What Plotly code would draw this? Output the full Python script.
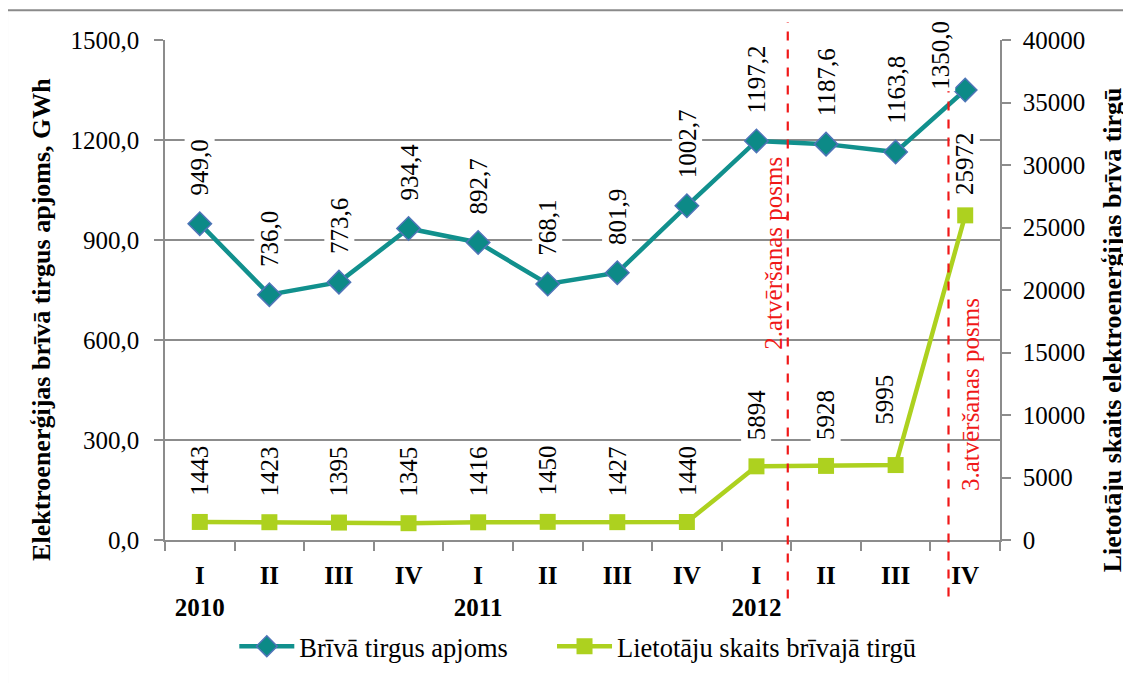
import plotly.graph_objects as go

quarters = ["I", "II", "III", "IV", "I", "II", "III", "IV", "I", "II", "III", "IV"]
years = ["2010", "", "", "", "2011", "", "", "", "2012", "", "", ""]
volume_gwh = [949.0, 736.0, 773.6, 934.4, 892.7, 768.1, 801.9, 1002.7, 1197.2, 1187.6, 1163.8, 1350.0]
users = [1443, 1423, 1395, 1345, 1416, 1450, 1427, 1440, 5894, 5928, 5995, 25972]
series_names = ["Brīvā tirgus apjoms", "Lietotāju skaits brīvajā tirgū"]
left_title = "Elektroenerģijas brīvā tirgus apjoms, GWh"
right_title = "Lietotāju skaits elektroenerģijas brīvā tirgū"
stage_labels = ["2.atvēršanas posms", "3.atvēršanas posms"]

FONT = "Liberation Serif, Times New Roman, serif"
TEAL = "#11908d"
TEAL_FILL = "#0c8a87"
DIAMOND_EDGE = "#4f74b8"
GREEN = "#add11f"
GRID = "#8c8c8c"
RED = "#f01818"

x = list(range(len(quarters)))
ticktext = [f"<b>{q}</b>" + (f"<br><b>{y}</b>" if y else "<br> ") for q, y in zip(quarters, years)]

fig = go.Figure()
fig.add_trace(go.Scatter(
    x=x, y=volume_gwh, name=series_names[0], mode="lines+markers",
    line=dict(color=TEAL, width=4.5),
    marker=dict(symbol="diamond", size=18, color=TEAL_FILL, line=dict(color=DIAMOND_EDGE, width=1.5)),
    yaxis="y", legend="legend",
))
fig.add_trace(go.Scatter(
    x=x, y=users, name=series_names[1], mode="lines+markers",
    line=dict(color=GREEN, width=4.5),
    marker=dict(symbol="square", size=16, color=GREEN),
    yaxis="y2", legend="legend2",
))

annotations = []
# label offsets (pixels) for labels that were nudged in the original
vol_shift = {11: (-25, -2)}
usr_shift = {10: (-12, 38), 11: (0, 18)}
for i, v in enumerate(volume_gwh):
    dx, dy = vol_shift.get(i, (0, 26))
    annotations.append(dict(
        x=i, y=v, xref="x", yref="y", text=f"{v:.1f}".replace(".", ","),
        textangle=-90, showarrow=False, xanchor="center", yanchor="bottom",
        xshift=dx, yshift=dy, bgcolor="white", borderpad=1,
        font=dict(family=FONT, size=25, color="black"),
    ))
for i, v in enumerate(users):
    dx, dy = usr_shift.get(i, (0, 24))
    annotations.append(dict(
        x=i, y=v, xref="x", yref="y2", text=str(v),
        textangle=-90, showarrow=False, xanchor="center", yanchor="bottom",
        xshift=dx, yshift=dy, bgcolor="white", borderpad=1,
        font=dict(family=FONT, size=25, color="black"),
    ))

# axis titles
annotations.append(dict(x=-0.148, y=0.441, xref="paper", yref="paper", text=f"<b>{left_title}</b>",
                        textangle=-90, showarrow=False, xanchor="center", yanchor="middle",
                        font=dict(family=FONT, size=26, color="black")))
annotations.append(dict(x=1.135, y=0.421, xref="paper", yref="paper", text=f"<b>{right_title}</b>",
                        textangle=-90, showarrow=False, xanchor="center", yanchor="middle",
                        font=dict(family=FONT, size=26, color="black")))

# stage labels
annotations.append(dict(x=8.253, y=0.5726, xref="x", yref="paper", text=stage_labels[0],
                        textangle=-90, showarrow=False, xanchor="center", yanchor="middle",
                        font=dict(family=FONT, size=25, color=RED)))
annotations.append(dict(x=11.07, y=0.290, xref="x", yref="paper", text=stage_labels[1],
                        textangle=-90, showarrow=False, xanchor="center", yanchor="middle",
                        font=dict(family=FONT, size=25, color=RED)))

shapes = [
    dict(type="line", xref="x", yref="paper", x0=8.45, x1=8.45, y0=-0.117, y1=1.036,
         line=dict(color=RED, width=2.2, dash="dash"), layer="above"),
    dict(type="line", xref="x", yref="paper", x0=10.76, x1=10.76, y0=-0.113, y1=1.02,
         line=dict(color=RED, width=2.2, dash="dash"), layer="above"),
    # outer frame
    dict(type="line", xref="paper", yref="paper", x0=-0.1892, x1=1.16, y0=1.0596, y1=1.0596,
         line=dict(color="#8a8a8a", width=2)),
    dict(type="line", xref="paper", yref="paper", x0=-0.1892, x1=-0.1892, y0=1.0596, y1=-0.3,
         line=dict(color="#8a8a8a", width=2)),
]

legend_style = dict(orientation="h", y=-0.213, yanchor="middle", xanchor="left",
                    font=dict(family=FONT, size=26.5, color="black"), itemwidth=55,
                    bgcolor="rgba(0,0,0,0)")

fig.update_layout(
    width=1123, height=675,
    margin=dict(l=157, r=131, t=32, b=140, pad=0),
    paper_bgcolor="white", plot_bgcolor="white",
    separators=", ",
    font=dict(family=FONT, size=25, color="black"),
    showlegend=True,
    legend=dict(x=0.083, **legend_style),
    legend2=dict(x=0.4635, **legend_style),
    xaxis=dict(
        range=[-0.5, 11.5], tickmode="array", tickvals=x, ticktext=ticktext,
        showgrid=False, zeroline=False, showline=True, linecolor=GRID, linewidth=1.5,
        ticks="", ticklabelstandoff=12,
        tickfont=dict(family=FONT, size=25, color="black"),
        minor=dict(tickmode="array", tickvals=[i - 0.5 for i in range(len(x) + 1)],
                   ticks="outside", ticklen=9, tickcolor=GRID, tickwidth=1.5, showgrid=False),
    ),
    yaxis=dict(
        range=[0, 1500], tickmode="linear", tick0=0, dtick=300, tickformat=".1f",
        showgrid=True, gridcolor=GRID, gridwidth=1.5, zeroline=False,
        showline=True, linecolor=GRID, linewidth=1.5,
        ticks="outside", ticklen=9, tickcolor=GRID, tickwidth=1.5, ticklabelstandoff=10,
        tickfont=dict(family=FONT, size=25, color="black"),
    ),
    yaxis2=dict(
        range=[0, 40000], tickmode="linear", tick0=0, dtick=5000, tickformat="d",
        overlaying="y", side="right", showgrid=False, zeroline=False,
        showline=True, linecolor=GRID, linewidth=1.5,
        ticks="outside", ticklen=9, tickcolor=GRID, tickwidth=1.5, ticklabelstandoff=7,
        tickfont=dict(family=FONT, size=25, color="black"),
    ),
    annotations=annotations,
    shapes=shapes,
)

fig.write_html("out.html")
